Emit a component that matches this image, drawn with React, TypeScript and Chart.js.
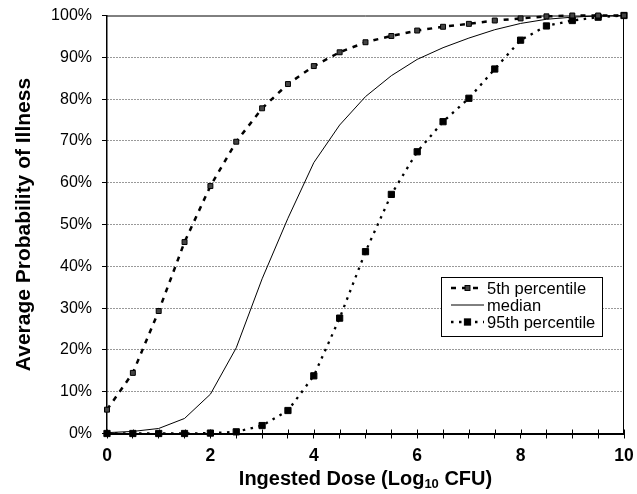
import React, { useEffect, useRef } from "react";
import { Chart, registerables } from "chart.js";

Chart.register(...registerables);

const doses = [0, 0.5, 1, 1.5, 2, 2.5, 3, 3.5, 4, 4.5, 5, 5.5, 6, 6.5, 7, 7.5, 8, 8.5, 9, 9.5, 10];
const p5 = [5.7, 14.5, 29.3, 45.8, 59.2, 69.8, 77.8, 83.6, 87.9, 91.2, 93.6, 95.1, 96.4, 97.3, 98.0, 98.8, 99.3, 99.8, 100, 100, 100];
const median = [0.2, 0.5, 1.2, 3.6, 9.4, 20.5, 37, 51.5, 64.8, 73.8, 80.6, 85.6, 89.5, 92.3, 94.6, 96.6, 98.1, 99.1, 99.6, 99.9, 100];
const p95 = [0, 0, 0, 0, 0.1, 0.4, 1.9, 5.5, 13.8, 27.6, 43.5, 57.2, 67.4, 74.6, 80.2, 87.2, 94.1, 97.5, 98.8, 99.6, 100];

const seriesLabels = ["5th percentile", "median", "95th percentile"];
const xTitleParts = ["Ingested Dose (Log", "10", " CFU)"];
const yTitle = "Average Probability of Illness";

const FONT = "'Liberation Sans', Arial, Helvetica, sans-serif";

const extrasPlugin = {
  id: "extras",
  beforeDatasetsDraw(chart: any) {
    const { ctx, chartArea } = chart;
    ctx.save();
    ctx.strokeStyle = "#000";
    ctx.lineWidth = 1;
    ctx.beginPath();
    ctx.moveTo(chartArea.left, chartArea.top + 0.5);
    ctx.lineTo(chartArea.right, chartArea.top + 0.5);
    ctx.moveTo(chartArea.right - 0.5, chartArea.top);
    ctx.lineTo(chartArea.right - 0.5, chartArea.bottom);
    ctx.stroke();
    // inner part of x ticks (crossing ticks)
    const xs = chart.scales.x;
    ctx.beginPath();
    xs.ticks.forEach((t: any) => {
      const px = Math.round(xs.getPixelForValue(t.value)) + 0.5;
      ctx.moveTo(px, chartArea.bottom - 4);
      ctx.lineTo(px, chartArea.bottom);
    });
    ctx.stroke();
    ctx.restore();
  },
  afterDraw(chart: any) {
    const { ctx, chartArea } = chart;
    ctx.save();
    ctx.fillStyle = "#000";
    // y title
    ctx.font = `bold 21px ${FONT}`;
    ctx.textAlign = "center";
    ctx.textBaseline = "alphabetic";
    ctx.translate(30, (chartArea.top + chartArea.bottom) / 2);
    ctx.rotate(-Math.PI / 2);
    ctx.fillText(yTitle, 0, 0);
    ctx.restore();

    // x title with subscript
    ctx.save();
    ctx.fillStyle = "#000";
    ctx.textAlign = "left";
    ctx.textBaseline = "alphabetic";
    const big = `bold 20px ${FONT}`;
    const small = `bold 13px ${FONT}`;
    ctx.font = big;
    const w1 = ctx.measureText(xTitleParts[0]).width;
    const w3 = ctx.measureText(xTitleParts[2]).width;
    ctx.font = small;
    const w2 = ctx.measureText(xTitleParts[1]).width;
    const total = w1 + w2 + w3;
    let x = (chartArea.left + chartArea.right) / 2 - total / 2;
    const base = 485;
    ctx.font = big;
    ctx.fillText(xTitleParts[0], x, base);
    x += w1;
    ctx.font = small;
    ctx.fillText(xTitleParts[1], x, base + 3);
    x += w2;
    ctx.font = big;
    ctx.fillText(xTitleParts[2], x, base);
    ctx.restore();

    // legend
    ctx.save();
    const bx = 441.5, by = 277.5, bw = 161, bh = 59;
    ctx.fillStyle = "#fff";
    ctx.fillRect(bx, by, bw, bh);
    ctx.strokeStyle = "#000";
    ctx.lineWidth = 1;
    ctx.strokeRect(bx, by, bw, bh);
    const rows = [288, 305, 322];
    chart.data.datasets.forEach((ds: any, i: number) => {
      const y = rows[i];
      const x0 = 451, x1 = 484;
      ctx.save();
      ctx.strokeStyle = ds.borderColor;
      ctx.lineWidth = ds.borderWidth;
      ctx.setLineDash(ds.borderDash || []);
      ctx.beginPath();
      ctx.moveTo(x0, y);
      ctx.lineTo(x1, y);
      ctx.stroke();
      ctx.restore();
      if (ds.pointRadius > 0) {
        const s = ds.pointRadius * Math.SQRT1_2;
        const cx = (x0 + x1) / 2;
        ctx.fillStyle = ds.pointBackgroundColor;
        ctx.fillRect(cx - s, y - s, 2 * s, 2 * s);
        ctx.strokeStyle = ds.pointBorderColor;
        ctx.lineWidth = ds.pointBorderWidth;
        ctx.strokeRect(cx - s, y - s, 2 * s, 2 * s);
      }
      ctx.fillStyle = "#000";
      ctx.font = `16.5px ${FONT}`;
      ctx.textAlign = "left";
      ctx.textBaseline = "middle";
      ctx.fillText(ds.label, 487, y + 1);
    });
    ctx.restore();
  },
};

export default function App() {
  const ref = useRef<HTMLCanvasElement | null>(null);
  useEffect(() => {
    if (!ref.current) return;
    const mk = (arr: number[]) => doses.map((d, i) => ({ x: d, y: arr[i] }));
    const chart = new Chart(ref.current, {
      type: "line",
      data: {
        datasets: [
          {
            label: seriesLabels[0],
            data: mk(p5),
            borderColor: "#000",
            borderWidth: 2.5,
            borderDash: [5, 6],
            pointStyle: "rect",
            pointRadius: 3.5,
            pointBackgroundColor: "#444",
            pointBorderColor: "#000",
            pointBorderWidth: 1,
            tension: 0,
            clip: false,
          } as any,
          {
            label: seriesLabels[1],
            data: mk(median),
            borderColor: "#000",
            borderWidth: 1,
            pointRadius: 0,
            tension: 0,
            clip: false,
          } as any,
          {
            label: seriesLabels[2],
            data: mk(p95),
            borderColor: "#000",
            borderWidth: 2.3,
            borderDash: [2.5, 5.5],
            pointStyle: "rect",
            pointRadius: 4.4,
            pointBackgroundColor: "#000",
            pointBorderColor: "#000",
            pointBorderWidth: 1,
            tension: 0,
            clip: false,
          } as any,
        ],
      },
      options: {
        animation: false,
        responsive: false,
        layout: { padding: { left: 0, top: 15.5, right: 13, bottom: 0 } },
        plugins: { legend: { display: false }, tooltip: { enabled: false } },
        scales: {
          x: {
            type: "linear",
            min: 0,
            max: 10,
            afterFit: (s: any) => {
              s.height = 60.5;
              s.paddingLeft = 0;
              s.paddingRight = 0;
            },
            grid: { drawOnChartArea: false, drawTicks: true, tickLength: 5, tickColor: "#000", tickWidth: 1 },
            border: { display: true, color: "#000", width: 2 },
            ticks: {
              stepSize: 0.5,
              autoSkip: false,
              maxRotation: 0,
              padding: 7,
              color: "#000",
              font: { family: FONT, size: 17.5, weight: "bold" },
              callback: (v: any) => (Number(v) % 2 === 0 ? String(v) : ""),
            },
          },
          y: {
            type: "linear",
            min: 0,
            max: 100,
            afterFit: (s: any) => {
              s.width = 107;
              s.paddingTop = 0;
              s.paddingBottom = 0;
            },
            grid: {
              color: (c: any) => (c.tick && (c.tick.value === 0 || c.tick.value === 100) ? "rgba(0,0,0,0)" : "#333"),
              lineWidth: 1,
              drawTicks: true,
              tickLength: 5,
              tickColor: "#000",
              tickWidth: 1,
              tickBorderDash: [],
            },
            border: { display: true, color: "#000", width: 1.5, dash: [1, 2] },
            ticks: {
              stepSize: 10,
              padding: 10,
              color: "#000",
              font: { family: FONT, size: 16 },
              callback: (v: any) => `${v}%`,
            },
          },
        },
      } as any,
      plugins: [extrasPlugin],
    });
    return () => chart.destroy();
  }, []);
  return (
    <div style={{ position: "absolute", left: 0, top: 0, width: 637, height: 494, background: "#fff" }}>
      <canvas ref={ref} width={637} height={494} style={{ display: "block" }} />
    </div>
  );
}
